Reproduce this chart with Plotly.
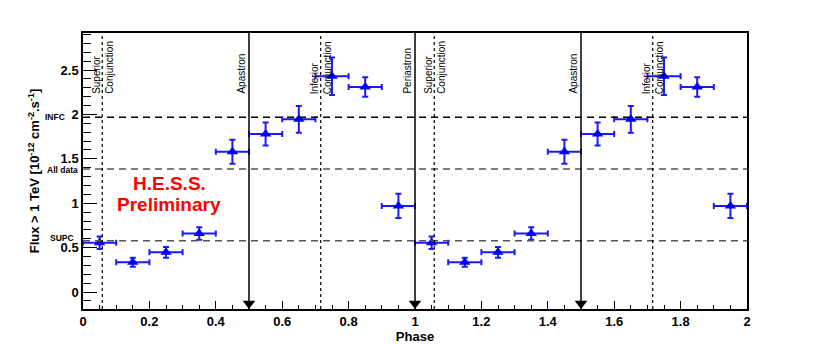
import plotly.graph_objects as go

# Data
phase = [0.05, 0.15, 0.25, 0.35, 0.45, 0.55, 0.65, 0.75, 0.85, 0.95,
         1.05, 1.15, 1.25, 1.35, 1.45, 1.55, 1.65, 1.75, 1.85, 1.95]
flux = [0.555, 0.335, 0.447, 0.66, 1.58, 1.78, 1.945, 2.43, 2.31, 0.97,
        0.555, 0.335, 0.447, 0.66, 1.58, 1.78, 1.945, 2.43, 2.31, 0.97]
flux_err = [0.07, 0.05, 0.06, 0.07, 0.135, 0.13, 0.15, 0.21, 0.11, 0.137,
            0.07, 0.05, 0.06, 0.07, 0.135, 0.13, 0.15, 0.21, 0.11, 0.137]
phase_err = [0.05] * 20

# reference levels
ref_names = ["INFC", "All data", "SUPC"]
ref_levels = [1.967, 1.385, 0.578]
ref_colors = ["#000000", "#555555", "#555555"]

# orbital markers
solid_phases = [0.5, 1.0, 1.5]
solid_labels = ["Apastron", "Periastron", "Apastron"]
conj_phases = [0.058, 0.716, 1.058, 1.716]
conj_labels = ["Superior<br>Conjunction", "Inferior<br>Conjunction",
               "Superior<br>Conjunction", "Inferior<br>Conjunction"]

YMIN, YMAX = -0.191, 2.917
FONT = "Liberation Sans, Arial, Helvetica, sans-serif"

fig = go.Figure()

fig.add_trace(go.Scatter(
    x=phase, y=flux, mode="markers",
    marker=dict(symbol="triangle-up", size=10, color="#0000ff"),
    error_y=dict(type="data", array=flux_err, color="#1a1aff", thickness=2, width=3),
    error_x=dict(type="data", array=phase_err, color="#1a1aff", thickness=2, width=3),
    showlegend=False, cliponaxis=False,
))

# arrow heads at bottom of solid lines
fig.add_trace(go.Scatter(
    x=solid_phases, y=[YMIN + 5.5 / 88.8] * len(solid_phases), mode="markers",
    marker=dict(symbol="triangle-down", size=11, color="black"),
    showlegend=False, cliponaxis=False,
))

for name, lev, col in zip(ref_names, ref_levels, ref_colors):
    fig.add_shape(type="line", xref="paper", x0=0, x1=1, yref="y", y0=lev, y1=lev,
                  line=dict(color=col, width=1.5, dash="7px,5px"))

shifts = {"INFC": (-17, 0), "All data": (-4, -1), "SUPC": (-8, 3)}
for name, lev in zip(ref_names, ref_levels):
    fig.add_annotation(xref="paper", x=0, yref="y", y=lev, text=name, showarrow=False,
                       xanchor="right", yanchor="middle", xshift=shifts[name][0],
                       yshift=shifts[name][1], borderpad=0,
                       font=dict(family=FONT, size=8.5, color="black", weight="bold"))

for p, lab in zip(solid_phases, solid_labels):
    fig.add_shape(type="line", xref="x", x0=p, x1=p, yref="paper", y0=0, y1=1,
                  line=dict(color="black", width=1.5))
    fig.add_annotation(x=p, xref="x", y=0.775, yref="paper", text=lab, textangle=-90,
                       showarrow=False, xanchor="right", yanchor="bottom", xshift=-1,
                       borderpad=0, font=dict(family=FONT, size=10, color="black"))

for p, lab in zip(conj_phases, conj_labels):
    fig.add_shape(type="line", xref="x", x0=p, x1=p, yref="paper", y0=0, y1=1,
                  line=dict(color="black", width=1.2, dash="3px,3px"))
    fig.add_annotation(x=p, xref="x", y=0.775, yref="paper", text=lab, textangle=-90,
                       showarrow=False, xanchor="center", yanchor="bottom", align="left",
                       borderpad=0, font=dict(family=FONT, size=10, color="black"))

# watermark, one annotation per line to keep the tight line spacing
for txt, yp in [("H.E.S.S.", 0.455), ("Preliminary", 0.38)]:
    fig.add_annotation(x=0.26, xref="x", y=yp, yref="paper", text=txt, showarrow=False,
                       font=dict(family=FONT, size=19, color="#ff0000", weight="bold"))

fig.update_xaxes(range=[0, 2], showgrid=False, zeroline=False,
                 showline=True, linecolor="black", linewidth=1.5, mirror=True,
                 ticks="inside", ticklen=8, tickwidth=1, tickcolor="black", dtick=0.2, tick0=0,
                 minor=dict(ticks="inside", ticklen=4, dtick=0.05, tickcolor="black"),
                 tickfont=dict(family=FONT, size=13, color="black", weight="bold"),
                 title=dict(text="Phase", standoff=2,
                            font=dict(family=FONT, size=13, color="black", weight="bold")))
fig.update_yaxes(range=[YMIN, YMAX], showgrid=False, zeroline=False,
                 showline=True, linecolor="black", linewidth=1.5, mirror=True,
                 ticks="inside", ticklen=14, tickwidth=1, tickcolor="black", dtick=0.5, tick0=0,
                 minor=dict(ticks="inside", ticklen=8, dtick=0.1, tickcolor="black"),
                 tickfont=dict(family=FONT, size=13, color="black", weight="bold"),
                 title=dict(text="Flux > 1 TeV [10<sup>-12</sup> cm<sup>-2</sup>.s<sup>-1</sup>]",
                            standoff=18,
                            font=dict(family=FONT, size=13, color="black", weight="bold")))

# page body has an 8px margin, so the margins are trimmed to put the frame where the reference has it
fig.update_layout(width=830, height=344, margin=dict(l=75, r=91, t=25, b=43, autoexpand=False),
                  plot_bgcolor="white", paper_bgcolor="white")

fig.write_html("out.html")
